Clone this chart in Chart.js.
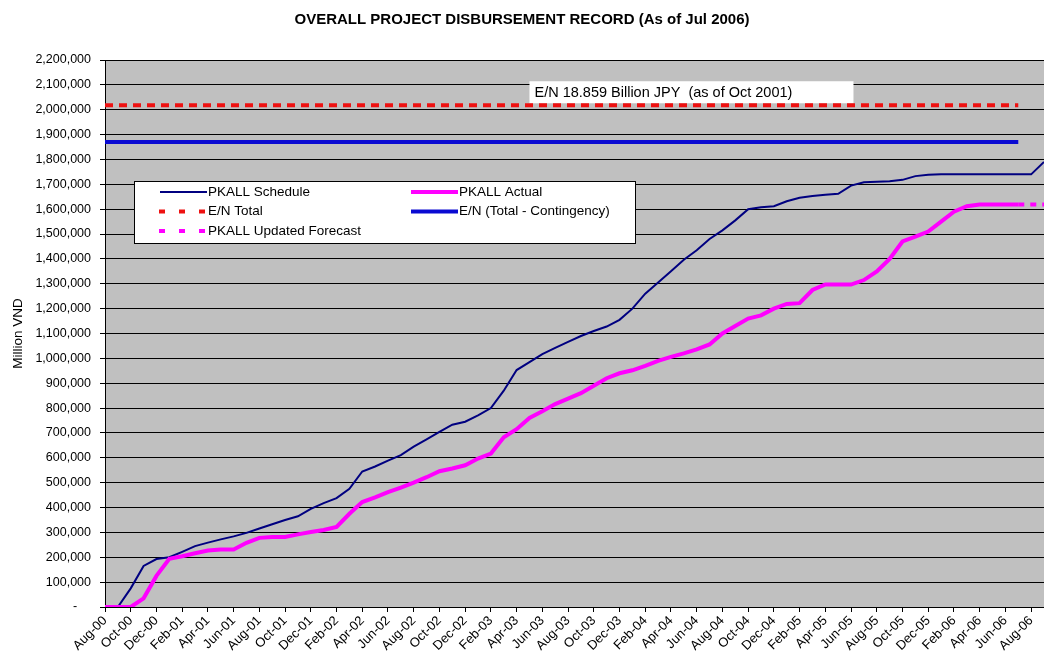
<!DOCTYPE html>
<html>
<head>
<meta charset="utf-8">
<script src="https://cdn.jsdelivr.net/npm/chart.js@4"></script>
<style>
    body { margin: 0; background: #fff; }
    #wrap { width: 1044px; height: 654px; position: relative; }
</style>
</head>
<body>
<div id="wrap"><canvas id="disbursementChart"></canvas></div>
<script>
var months = [
    'Aug-00', 'Sep-00', 'Oct-00', 'Nov-00', 'Dec-00',
    'Jan-01', 'Feb-01', 'Mar-01', 'Apr-01', 'May-01', 'Jun-01', 'Jul-01', 'Aug-01', 'Sep-01', 'Oct-01', 'Nov-01', 'Dec-01',
    'Jan-02', 'Feb-02', 'Mar-02', 'Apr-02', 'May-02', 'Jun-02', 'Jul-02', 'Aug-02', 'Sep-02', 'Oct-02', 'Nov-02', 'Dec-02',
    'Jan-03', 'Feb-03', 'Mar-03', 'Apr-03', 'May-03', 'Jun-03', 'Jul-03', 'Aug-03', 'Sep-03', 'Oct-03', 'Nov-03', 'Dec-03',
    'Jan-04', 'Feb-04', 'Mar-04', 'Apr-04', 'May-04', 'Jun-04', 'Jul-04', 'Aug-04', 'Sep-04', 'Oct-04', 'Nov-04', 'Dec-04',
    'Jan-05', 'Feb-05', 'Mar-05', 'Apr-05', 'May-05', 'Jun-05', 'Jul-05', 'Aug-05', 'Sep-05', 'Oct-05', 'Nov-05', 'Dec-05',
    'Jan-06', 'Feb-06', 'Mar-06', 'Apr-06', 'May-06', 'Jun-06', 'Jul-06', 'Aug-06', 'Sep-06'
];

var pkallSchedule = [
    0, 0, 75000, 165000, 193000,
    200000, 222000, 245000, 259000, 272000, 284000, 298000, 316000, 333000, 350000, 365000, 395000,
    418000, 438000, 475000, 545000, 565000, 589000, 611000, 645000, 674000, 704000, 733000, 745000,
    771000, 800000, 870000, 953000, 985000, 1017000, 1042000, 1066000, 1090000, 1110000, 1128000, 1155000,
    1200000, 1260000, 1305000, 1350000, 1397000, 1435000, 1480000, 1515000, 1555000, 1600000, 1608000, 1612000,
    1632000, 1646000, 1653000, 1658000, 1662000, 1695000, 1708000, 1710000, 1712000, 1718000, 1733000, 1738000,
    1740000, 1740000, 1740000, 1740000, 1740000, 1740000, 1740000, 1740000, 1790000
];

var pkallActual = [
    0, 0, 0, 35000, 125000,
    194000, 204000, 216000, 227000, 231000, 231000, 258000, 278000, 282000, 282000, 292000, 302000,
    310000, 322000, 375000, 422000, 441000, 462000, 480000, 500000, 522000, 546000, 557000, 570000,
    597000, 617000, 683000, 715000, 760000, 787000, 816000, 838000, 860000, 890000, 920000, 940000,
    952000, 970000, 990000, 1006000, 1020000, 1036000, 1056000, 1100000, 1130000, 1160000, 1173000, 1200000,
    1219000, 1222000, 1275000, 1297000, 1297000, 1297000, 1315000, 1350000, 1400000, 1470000, 1490000, 1510000,
    1550000, 1590000, 1612000, 1619000, 1619000, 1619000, 1619000
];

var forecastMonths = ['Jul-06', 'Aug-06', 'Sep-06'];
var forecastValues = [1619000, 1619000, 1619000];

var enTotal = 2018000;
var enNetOfContingency = 1870000;
var enLineMonths = ['Aug-00', 'Jul-06'];

var yTicks = { min: 0, max: 2200000, step: 100000 };
var enNote = 'E/N 18.859 Billion JPY  (as of Oct 2001)';
var enNoteMonth = 'May-03';

var Disbursement = (function () {
    'use strict';

    var fontFamily = "'Liberation Sans', Arial, sans-serif";

    var pairs = function (xs, ys) {
        return xs.map(function (x, i) {
            return { x: x, y: ys[i] };
        });
    };

    var constantLine = function (xs, value) {
        return xs.map(function (x) {
            return { x: x, y: value };
        });
    };

    var plotBackground = {
        id: 'plotBackground',
        beforeDraw: function (chart) {
            var a = chart.chartArea;
            var ctx = chart.ctx;
            ctx.save();
            ctx.fillStyle = '#c0c0c0';
            ctx.fillRect(a.left, a.top, a.right - a.left, a.bottom - a.top);
            ctx.restore();
        }
    };

    var noteBox = {
        id: 'noteBox',
        beforeDatasetsDraw: function (chart) {
            var ctx = chart.ctx;
            var x = chart.scales.x.getPixelForValue(months.indexOf(enNoteMonth));
            var bottom = chart.scales.y.getPixelForValue(enTotal) - 2;
            ctx.save();
            ctx.fillStyle = '#fff';
            ctx.fillRect(x, bottom - 22, 324, 22);
            ctx.fillStyle = '#000';
            ctx.font = '14.5px ' + fontFamily;
            ctx.textBaseline = 'middle';
            ctx.fillText(enNote, x + 5, bottom - 10);
            ctx.restore();
        }
    };

    // legend box drawn by hand: two columns like the spreadsheet original
    var boxLegend = {
        id: 'boxLegend',
        afterDatasetsDraw: function (chart) {
            var ctx = chart.ctx;
            var left = 134, top = 181;
            var cells = [
                { ds: 2, col: 0, row: 0 }, { ds: 0, col: 1, row: 0 },
                { ds: 3, col: 0, row: 1 }, { ds: 4, col: 1, row: 1 },
                { ds: 1, col: 0, row: 2 }
            ];
            var rowY = [11, 30.5, 50];
            var colX = [26, 277];
            ctx.save();
            ctx.fillStyle = '#fff';
            ctx.fillRect(left, top, 502, 63);
            ctx.strokeStyle = '#000';
            ctx.lineWidth = 1;
            ctx.strokeRect(left + 0.5, top + 0.5, 501, 62);
            ctx.font = '13.5px ' + fontFamily;
            ctx.textBaseline = 'middle';
            cells.forEach(function (cell) {
                var ds = chart.data.datasets[cell.ds];
                var x0 = left + colX[cell.col];
                var y = top + rowY[cell.row];
                ctx.beginPath();
                ctx.strokeStyle = ds.borderColor;
                ctx.lineWidth = ds.borderWidth;
                ctx.setLineDash(ds.borderDash ? [6, 14] : []);
                ctx.moveTo(ds.borderDash ? x0 - 1 : x0, y);
                ctx.lineTo(x0 + 47, y);
                ctx.stroke();
                ctx.setLineDash([]);
                ctx.fillStyle = '#000';
                ctx.fillText(ds.label, x0 + 48, y);
            });
            ctx.restore();
        }
    };

    var load = function (selector) {
        var context = document.getElementById(selector);
        return new Chart(context, {
            type: 'line',
            data: {
                labels: months,
                datasets: [
                    {
                        label: 'PKALL Actual',
                        data: pkallActual,
                        borderColor: '#ff00ff',
                        borderWidth: 4
                    },
                    {
                        label: 'PKALL Updated Forecast',
                        data: pairs(forecastMonths, forecastValues),
                        borderColor: '#ff00ff',
                        borderWidth: 4,
                        borderDash: [6, 6]
                    },
                    {
                        label: 'PKALL Schedule',
                        data: pkallSchedule,
                        borderColor: '#000080',
                        borderWidth: 2
                    },
                    {
                        label: 'E/N Total',
                        data: constantLine(enLineMonths, enTotal),
                        borderColor: '#ee1111',
                        borderWidth: 4,
                        borderDash: [8, 6]
                    },
                    {
                        label: 'E/N (Total - Contingency)',
                        data: constantLine(enLineMonths, enNetOfContingency),
                        borderColor: '#0a0ad2',
                        borderWidth: 4
                    }
                ]
            },
            options: {
                responsive: true,
                maintainAspectRatio: false,
                animation: false,
                elements: { point: { radius: 0 }, line: { tension: 0 } },
                layout: { padding: { left: 0, right: 0, top: 0, bottom: 0 } },
                plugins: {
                    legend: { display: false },
                    tooltip: { enabled: false },
                    title: {
                        display: true,
                        text: 'OVERALL PROJECT DISBURSEMENT RECORD (As of Jul 2006)',
                        color: '#000',
                        font: { family: fontFamily, size: 15, weight: 'bold' },
                        padding: { top: 11, bottom: 31 }
                    }
                },
                scales: {
                    x: {
                        offset: false,
                        afterFit: function (scale) {
                            scale.height = 47;
                            scale.paddingRight = 0;
                        },
                        grid: {
                            drawOnChartArea: false,
                            drawTicks: true,
                            tickLength: 5,
                            color: function (c) { return c.index % 2 === 0 ? '#000' : 'rgba(0,0,0,0)'; }
                        },
                        border: { display: true, color: '#000', width: 1 },
                        ticks: {
                            autoSkip: false,
                            minRotation: 45,
                            maxRotation: 45,
                            padding: 1,
                            color: '#000',
                            font: { family: fontFamily, size: 13 },
                            callback: function (value, index) {
                                return index % 2 === 0 ? months[index] : '';
                            }
                        }
                    },
                    y: {
                        min: yTicks.min,
                        max: yTicks.max,
                        afterFit: function (scale) { scale.width = 105; },
                        grid: { color: '#000', lineWidth: 1, tickLength: 5 },
                        border: { display: true, color: '#000', width: 1 },
                        ticks: {
                            stepSize: yTicks.step,
                            padding: 9,
                            color: '#000',
                            font: { family: fontFamily, size: 12.5 },
                            callback: function (value) {
                                return value === 0 ? '-    ' : value.toLocaleString('en-US');
                            }
                        },
                        title: {
                            display: true,
                            text: 'Million VND',
                            color: '#000',
                            padding: { top: 10, bottom: 0 },
                            font: { family: fontFamily, size: 13.5 }
                        }
                    }
                }
            },
            plugins: [plotBackground, noteBox, boxLegend]
        });
    };

    return { load: load };
})();

Disbursement.load('disbursementChart');
</script>
</body>
</html>
